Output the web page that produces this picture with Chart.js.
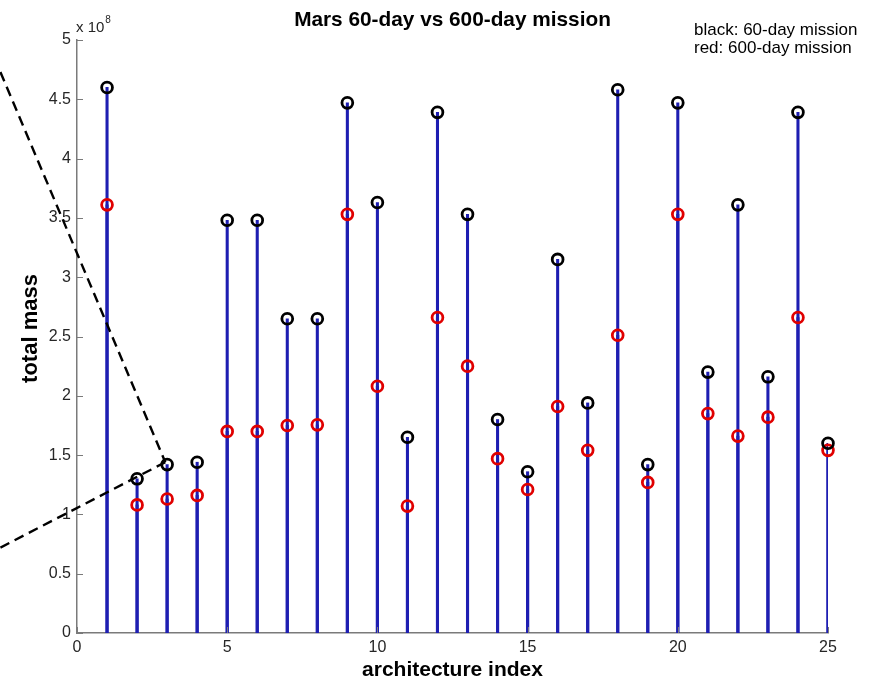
<!DOCTYPE html>
<html>
<head>
<meta charset="utf-8">
<script src="https://cdn.jsdelivr.net/npm/chart.js@4/dist/chart.umd.min.js"></script>
<style>
  html, body { margin: 0; padding: 0; background: #ffffff; }
  #wrap { width: 870px; height: 679px; }
</style>
</head>
<body>
<div id="wrap"><canvas id="c" width="870" height="679"></canvas></div>
<script>
// ---- data (values in units of 1e8) ----
const architectureIndex = [1,2,3,4,5,6,7,8,9,10,11,12,13,14,15,16,17,18,19,20,21,22,23,24,25];
const mass60day  = [4.60,1.30,1.42,1.44,3.48,3.48,2.65,2.65,4.47,3.63,1.65,4.39,3.53,1.80,1.36,3.15,1.94,4.58,1.42,4.47,2.20,3.61,2.16,4.39,1.60];
const mass600day = [3.61,1.08,1.13,1.16,1.70,1.70,1.75,1.755,3.53,2.08,1.07,2.66,2.25,1.47,1.21,1.91,1.54,2.51,1.27,3.53,1.85,1.66,1.82,2.66,1.54];
const xTickValues = [0,5,10,15,20,25];
const yTickValues = [0,0.5,1,1.5,2,2.5,3,3.5,4,4.5,5];
const yTickLabels = ['0','0.5','1','1.5','2','2.5','3','3.5','4','4.5','5'];
const titleText = 'Mars 60-day vs 600-day mission';
const legendLines = ['black: 60-day mission', 'red: 600-day mission'];
const xAxisTitle = 'architecture index';
const yAxisTitle = 'total mass';
const exponentText = ['x 10', '8'];
// annotation: dashed "<" pointing at architecture 3 (data coordinates)
const dashLineA = [{x: -2.55, y: 4.73}, {x: 2.94, y: 1.44}];
const dashLineB = [{x: -2.55, y: 0.72}, {x: 2.94, y: 1.44}];

const toXY = (ys) => ys.map((v, i) => ({x: architectureIndex[i], y: v}));

const FONT = '"Liberation Sans", Arial, Helvetica, sans-serif';
const AXIS_GRAY = '#7a7a7a';
const STEM_BLUE = '#1e1eb2';

const overlay = {
  id: 'overlay',
  afterDatasetsDraw(chart) {
    const ctx = chart.ctx;
    const xs = chart.scales.x, ys = chart.scales.y;
    const ca = chart.chartArea;
    ctx.save();
    // inward tick marks
    ctx.strokeStyle = AXIS_GRAY;
    ctx.lineWidth = 1;
    ctx.beginPath();
    yTickValues.forEach(v => {
      const py = Math.round(ys.getPixelForValue(v)) + 0.5;
      ctx.moveTo(ca.left, py); ctx.lineTo(ca.left + 6, py);
    });
    xTickValues.forEach(v => {
      const px = Math.round(xs.getPixelForValue(v)) + 0.5;
      ctx.moveTo(px, ca.bottom); ctx.lineTo(px, ca.bottom - 6);
    });
    ctx.stroke();
    // dashed annotation lines
    ctx.strokeStyle = '#000';
    ctx.lineWidth = 2.4;
    ctx.setLineDash([10, 6]);
    [dashLineA, dashLineB].forEach(line => {
      ctx.beginPath();
      line.forEach((p, i) => {
        const px = xs.getPixelForValue(p.x), py = ys.getPixelForValue(p.y);
        if (i === 0) ctx.moveTo(px, py); else ctx.lineTo(px, py);
      });
      ctx.stroke();
    });
    ctx.setLineDash([]);
    ctx.restore();
  },
  afterDraw(chart) {
    const ctx = chart.ctx;
    const ca = chart.chartArea;
    const cx = (ca.left + ca.right) / 2;
    ctx.save();
    ctx.fillStyle = '#000';
    // title
    ctx.font = 'bold 20.8px ' + FONT;
    ctx.textAlign = 'center';
    ctx.textBaseline = 'alphabetic';
    ctx.fillText(titleText, cx, 26);
    // legend text
    ctx.font = '17px ' + FONT;
    ctx.textAlign = 'left';
    ctx.fillText(legendLines[0], 694, 35);
    ctx.fillText(legendLines[1], 694, 53);
    // exponent
    ctx.fillStyle = '#262626';
    ctx.font = '15px ' + FONT;
    ctx.fillText(exponentText[0], ca.left - 1, 32);
    const w = ctx.measureText(exponentText[0]).width;
    ctx.font = '10px ' + FONT;
    ctx.fillText(exponentText[1], ca.left - 1 + w + 1, 23);
    // axis titles
    ctx.fillStyle = '#000';
    ctx.font = 'bold 21px ' + FONT;
    ctx.textAlign = 'center';
    ctx.fillText(xAxisTitle, cx, 676);
    ctx.font = 'bold 22px ' + FONT;
    ctx.translate(31, (ca.top + ca.bottom) / 2 - 8);
    ctx.rotate(-Math.PI / 2);
    ctx.textBaseline = 'middle';
    ctx.fillText(yAxisTitle, 0, 0);
    ctx.restore();
  }
};

new Chart(document.getElementById('c'), {
  type: 'bar',
  data: {
    datasets: [
      {
        type: 'line', label: '60-day', data: toXY(mass60day),
        showLine: false, pointStyle: 'circle', pointRadius: 5.4, pointHoverRadius: 5.4,
        pointBorderWidth: 2.8, pointBackgroundColor: 'rgba(0,0,0,0)',
        borderColor: '#000000', order: 0, clip: false
      },
      {
        type: 'line', label: '600-day', data: toXY(mass600day),
        showLine: false, pointStyle: 'circle', pointRadius: 5.4, pointHoverRadius: 5.4,
        pointBorderWidth: 2.8, pointBackgroundColor: 'rgba(0,0,0,0)',
        borderColor: '#e00000', order: 1, clip: false
      },
      {
        type: 'bar', label: 'stem 60', data: toXY(mass60day),
        backgroundColor: STEM_BLUE, borderWidth: 0, barThickness: 2.4,
        grouped: false, order: 3
      },
      {
        type: 'bar', label: 'stem 600', data: toXY(mass600day),
        backgroundColor: STEM_BLUE, borderWidth: 0, barThickness: 2.4,
        grouped: false, order: 2
      }
    ]
  },
  options: {
    responsive: false,
    animation: false,
    devicePixelRatio: 1,
    layout: { padding: { top: 40, right: 42, left: 0, bottom: 0 } },
    plugins: { legend: { display: false }, tooltip: { enabled: false }, title: { display: false } },
    scales: {
      x: {
        type: 'linear', min: 0, max: 25, offset: false,
        afterBuildTicks: (s) => { s.ticks = xTickValues.map(v => ({value: v})); },
        afterFit: (s) => { s.height = 46; },
        grid: { display: false, drawTicks: false },
        border: { display: true, color: AXIS_GRAY, width: 1.5 },
        ticks: { color: '#262626', font: { family: FONT, size: 16 }, padding: 5, maxRotation: 0, autoSkip: false }
      },
      y: {
        type: 'linear', min: 0, max: 5,
        afterBuildTicks: (s) => { s.ticks = yTickValues.map(v => ({value: v})); },
        afterFit: (s) => { s.width = 77; },
        grid: { display: false, drawTicks: false },
        border: { display: true, color: AXIS_GRAY, width: 1.5 },
        ticks: {
          color: '#262626', font: { family: FONT, size: 16 }, padding: 6, autoSkip: false,
          callback: (v) => { const i = yTickValues.indexOf(v); return i >= 0 ? yTickLabels[i] : ''; }
        }
      }
    }
  },
  plugins: [overlay]
});
</script>
</body>
</html>
